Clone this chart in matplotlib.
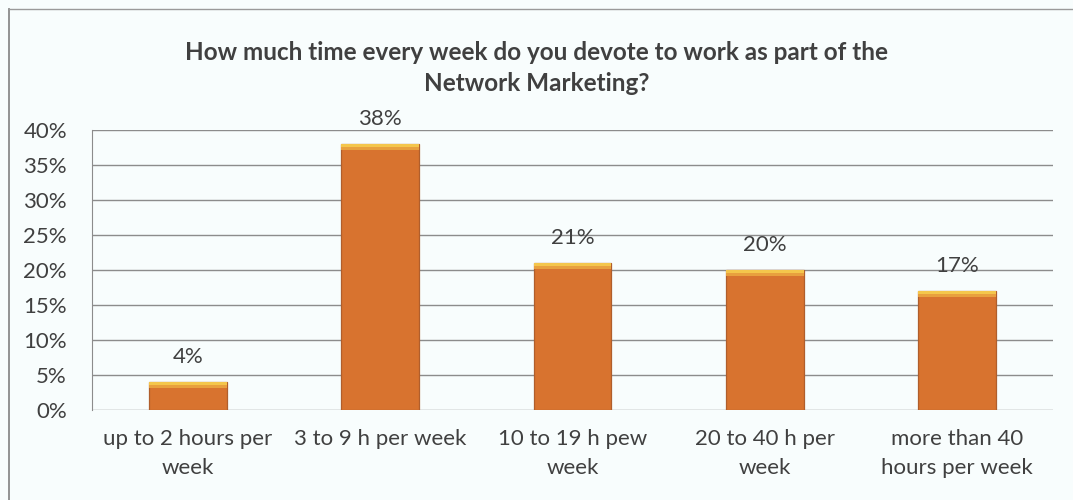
import matplotlib
matplotlib.use('Agg')
from matplotlib import pyplot as plt
from matplotlib.lines import Line2D
from matplotlib.ticker import PercentFormatter

categories = ['up to 2 hours per\nweek', '3 to 9 h per week', '10 to 19 h pew\nweek',
              '20 to 40 h per\nweek', 'more than 40\nhours per week']
shares = [4, 38, 21, 20, 17]
title = 'How much time every week do you devote to work as part of the\nNetwork Marketing?'

plt.rcParams['font.family'] = ['Lato', 'DejaVu Sans']
text_col = '#404040'
bg = '#F8FDFD'

fig = plt.figure(figsize=(10.73, 5.0), dpi=100, facecolor=bg)
ax = fig.add_axes([92 / 1073, 1 - 410 / 500, 961 / 1073, 280 / 500], facecolor=bg)

# outer chart frame: only the top and left edges are inside the image
fx, fy = 9 / 1073, 1 - 9 / 500
fig.add_artist(Line2D([fx, fx], [0, fy], transform=fig.transFigure, color='#8A8A8A', lw=1.3))
fig.add_artist(Line2D([fx, 1], [fy, fy], transform=fig.transFigure, color='#9A9A9A', lw=1.0))

x = range(len(categories))
width = 0.405
ax.bar(x, shares, width=width, color='#D8732F', edgecolor='#B05E2C', linewidth=0.9, zorder=3)
# bevel highlight on top of each bar
ax.bar(x, [0.45] * len(shares), bottom=[v - 0.45 for v in shares], width=width,
       color='#F4C64C', linewidth=0, zorder=4)
ax.bar(x, [0.4] * len(shares), bottom=[v - 0.85 for v in shares], width=width,
       color='#E8A03E', linewidth=0, zorder=4)

for i, v in enumerate(shares):
    ax.text(i, v + 2.2, f'{v}%', ha='center', va='bottom', fontsize=16, color=text_col)

ax.set_xlim(-0.5, len(categories) - 0.5)
ax.set_ylim(0, 40)
ax.set_yticks(range(0, 41, 5))
ax.yaxis.set_major_formatter(PercentFormatter(decimals=0))
ax.set_xticks(list(x))
ax.set_xticklabels(categories, fontsize=16, color=text_col, linespacing=1.55)
ax.tick_params(axis='y', labelsize=16, labelcolor=text_col, length=0, pad=18)
ax.tick_params(axis='x', length=0, pad=14)
ax.grid(axis='y', color='#8C8C8C', linewidth=1.0, zorder=0)
for s in ['top', 'right', 'bottom']:
    ax.spines[s].set_visible(False)
ax.spines['left'].set_color('#8C8C8C')

fig.text(0.5, 1 - 41 / 500, title, ha='center', va='top', fontsize=17.5, fontweight='bold',
         color=text_col, linespacing=1.4)

fig.savefig('out.png', dpi=100, facecolor=bg)
